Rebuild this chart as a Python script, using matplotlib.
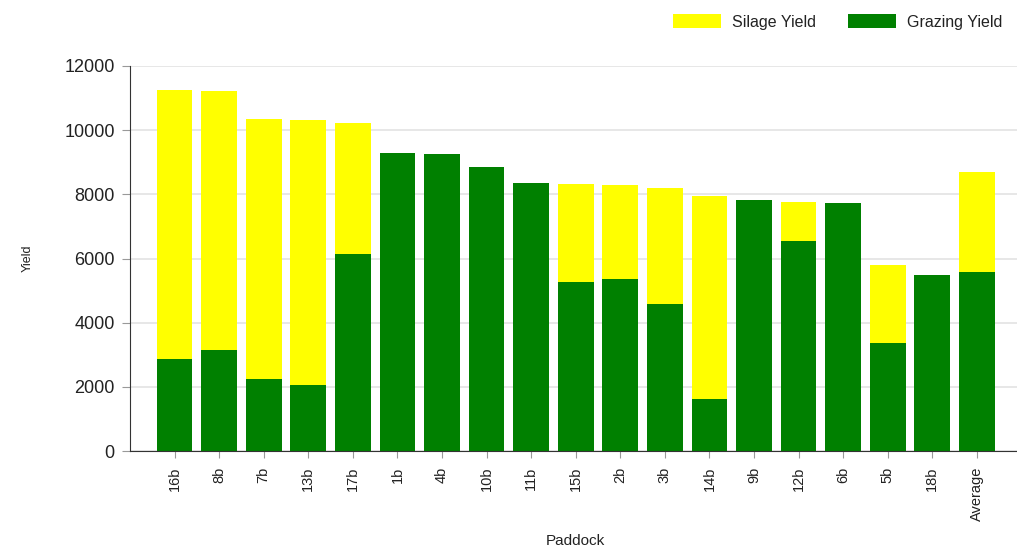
import matplotlib.pyplot as plt
import numpy as np

plt.rcParams['font.family'] = ['Liberation Sans', 'DejaVu Sans']

paddocks = ['16b', '8b', '7b', '13b', '17b', '1b', '4b', '10b', '11b', '15b',
            '2b', '3b', '14b', '9b', '12b', '6b', '5b', '18b', 'Average']
total_yield = [11250, 11220, 10340, 10330, 10235, 9300, 9260, 8865, 8345, 8330,
               8300, 8190, 7940, 7835, 7750, 7740, 5810, 5495, 8700]
grazing_yield = [2870, 3140, 2235, 2070, 6150, 9300, 9260, 8865, 8345, 5270,
                 5370, 4590, 1610, 7835, 6555, 7740, 3375, 5495, 5570]
silage_yield = [t - g for t, g in zip(total_yield, grazing_yield)]

fig = plt.figure(figsize=(10.17, 5.48), dpi=100)
ax = fig.add_axes([130 / 1017, (548 - 451) / 548, 887 / 1017, 385 / 548])

x = np.arange(len(paddocks))
ax.bar(x, grazing_yield, width=0.8, color='#008000', label='Grazing Yield', zorder=2)
ax.bar(x, silage_yield, width=0.8, bottom=grazing_yield, color='#ffff00',
       label='Silage Yield', zorder=2)

ax.set_ylim(0, 12000)
ax.set_xlim(-1, 18.9)
ax.set_yticks(range(0, 12001, 2000))
ax.yaxis.grid(True, color='#e3e3e3', linewidth=1.2, zorder=0)
ax.set_axisbelow(True)
ax.set_xticks(x)
ax.set_xticklabels(paddocks, rotation=90, fontsize=10.5, color='#222222')
ax.tick_params(axis='y', labelsize=13, length=6, pad=5, color='#999999', labelcolor='#222222')
ax.tick_params(axis='x', length=5, pad=6, color='#999999')

for side in ['top', 'right']:
    ax.spines[side].set_visible(False)
ax.spines['left'].set_color('#333333')
ax.spines['bottom'].set_color('#333333')

# x label sits right at the bottom edge, like the reference
fig.text(575 / 1017, 1 - 541 / 548, 'Paddock', fontsize=11, color='#222222',
         ha='center', va='center')
ax.set_ylabel('Yield', fontsize=9, color='#222222', labelpad=22)

handles, labels = ax.get_legend_handles_labels()
fig.legend(handles[::-1], labels[::-1], loc='upper right', bbox_to_anchor=(1.0, 1.0),
           ncol=2, frameon=False, fontsize=11.5, handlelength=3.0, handleheight=0.9,
           columnspacing=2.0, handletextpad=0.7, labelcolor='#222222')

fig.savefig('out.png', dpi=100)
